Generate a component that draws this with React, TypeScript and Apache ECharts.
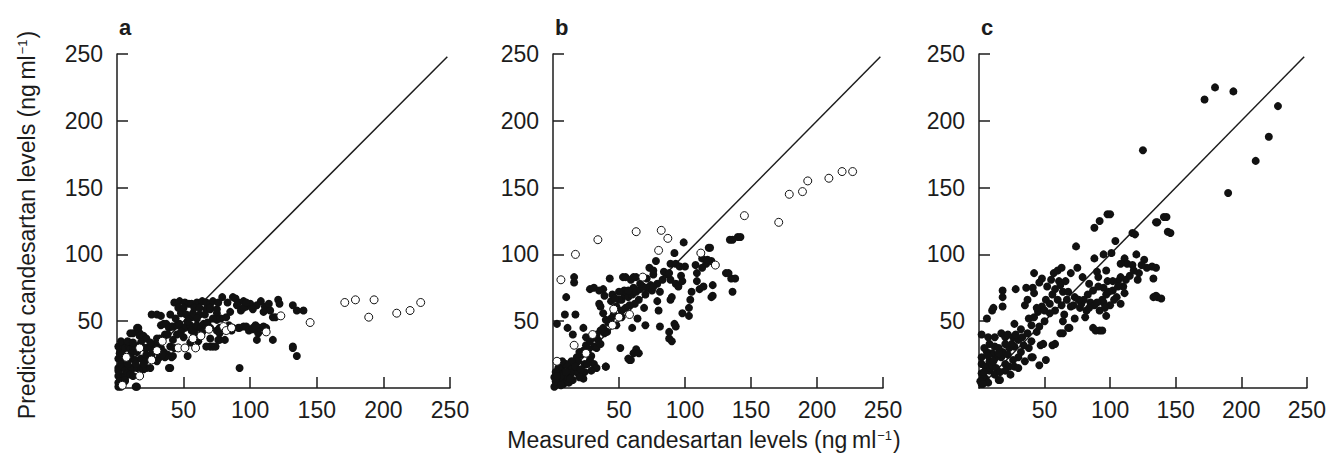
import React, { useEffect, useRef } from 'react';
import * as echarts from 'echarts';

const axisTicks = [0, 50, 100, 150, 200, 250];
const panelLabels = ['a', 'b', 'c'];
const identityLine = [[0, 0], [248, 248]];
const yTitle = 'Predicted candesartan levels (ng\u2009ml';
const xTitle = 'Measured candesartan levels (ng\u2009ml';
const unitExp = '\u22121';

const aFilled = [
  [43,64],[47,65],[51,64],[54,63],[56,63],[60,64],[64,65],[67,64],[70,63],[72,65],[76,64],[79,68],[87,68],[89,67],[91,64],[95,65],[97,61],[100,63],[105,62],[108,65],[111,61],[115,58],[121,66],[122,63],[132,62],[135,58],[140,58],[67,59],
  [26,55],[30,55],[33,54],[48,56],[52,55],[56,53],[57,56],[62,55],[70,59],[70,60],[75,56],[75,59],[78,52],[82,53],[85,57],[90,62],[93,58],[95,60],[102,59],[110,57],[117,53],[119,53],
  [33,47],[35,48],[37,48],[39,45],[41,46],[42,46],[45,47],[47,48],[49,45],[51,45],[52,46],[55,47],[56,43],[60,45],[60,47],[63,45],[65,48],[67,46],[68,49],[75,51],[75,43],[77,45],[77,41],[86,43],[87,45],[91,45],[92,45],[95,46],[97,46],[99,43],[102,44],[102,45],[106,41],[107,45],[110,46],[112,45],
  [70,37],[70,31],[72,31],[67,31],[74,31],[76,36],[81,36],[77,36],[61,35],[55,34],[53,24],[40,31],[37,24],[42,24],[40,15],[105,36],[117,36],[92,15],[132,31],[135,24],[132,30],
  [10,41],[12,41],[15,45],[16,45],[17,41],[17,39],[19,38],[20,39],[22,37],[30,37],[32,37],[36,40],[18,34],[30,34],
  [1,31],[2,30],[5,31],[6,30],[9,31],[10,29],[12,30],[14,30],[16,31],[21,30],[22,30],[25,30],[26,31],[29,30],[30,28],[33,30],[35,27],[38,25],[41,23],[43,30],
  [2,26],[11,26],[15,27],[1,22],[4,22],[4,25],[10,23],[10,22],[13,21],[14,21],[18,22],[22,21],[22,25],[27,21],[32,23],[36,23],
  [1,15],[1,13],[6,15],[6,14],[11,15],[11,14],[15,15],[18,15],[20,14],[22,15],[25,15],[39,15],
  [1,9],[2,10],[5,9],[6,8],[8,11],[10,10],[12,9],[1,4],[2,5],[6,5],[6,6],[3,1],[1,1],[14,1],[15,1],
  [3,18],[8,18],[14,18],[20,18],[26,25],[30,20],[34,25],[3,35],[8,35],[12,34],[25,34],[44,52],[40,55],[46,60],[50,60],[58,60],[62,60],[66,55],[72,52],
  [45,40],[50,38],[58,41],[64,42],[70,45],[38,40],[42,36],[48,42],[53,50],[60,52],[83,64],[85,45],[97,64],[104,47],[114,63],[84,47]
];
const aOpen = [
  [4,2],[17,9],[26,21],[17,30],[7,23],[34,35],[30,28],[46,30],[51,30],[57,37],[59,30],[63,39],[69,44],[80,46],[82,43],[86,45],[112,42],[123,54],[145,49],[171,64],[179,66],[193,66],[189,53],[210,56],[220,58],[228,64]
];

const bFilled = [
  [99,109],[92,101],[118,105],[134,111],[140,113],[119,105],[136,111],[142,113],
  [113,97],[116,93],[120,95],[89,93],[93,93],[96,91],[100,91],[73,90],[76,85],[71,82],[74,77],[71,75],[75,73],[79,78],[83,81],[86,85],[89,81],[93,78],[95,76],[98,80],[109,86],[109,80],[111,74],[114,76],[121,77],[131,86],[135,82],[136,72],[120,68],[105,72],[104,66],[103,60],[98,56],[103,54],[89,66],[90,68],[80,58],[92,48],[93,46],[88,42],[88,37],[90,35],[81,46],[69,60],[70,47],[64,52],[60,45],[63,29],[61,26],[58,21],[52,66],[54,70],[54,73],[59,81],[61,83],[61,75],[56,71],[50,66],[48,61],[44,65],[39,69],[38,74],[35,73],[35,63],[36,61],[43,82],[53,83],[28,74],[31,75],[16,83],[16,79],[10,68],[9,55],[17,55],[3,48],[11,45],[15,40],[23,45],[25,38],[25,32],[38,56],[40,51],[41,42],[39,41],[34,36],[31,31],[26,26],[21,25],[18,23],[19,20],[24,18],[28,21],[31,18],[33,15],[40,16],[29,13],[24,12],[23,7],[16,13],[12,16],[8,17],[6,13],[4,11],[1,8],[5,6],[9,5],[3,3],[1,1],[11,8],[14,11],[19,11],[59,21],[79,65],[81,72],[78,95],[76,88],[63,83],[55,83],[117,96],[133,86],[138,82],[121,69],
  [45,70],[47,67],[50,72],[57,68],[60,70],[63,72],[66,74],[68,76],[65,66],[62,63],[58,62],[55,60],[52,58],[46,55],[44,52],[42,49],[38,45],[36,43],[33,40],[30,38],[28,35],[27,29],[23,28],[20,27],[14,20],[10,18],[7,20],[4,15],[2,12],[8,3],[12,4],[6,9],[2,5],[15,6],[20,8],[51,30],[57,22],[65,26],[40,16],
  [3,9],[6,2],[10,12],[13,7],[17,16],[21,14],[26,18],[29,24],[33,30],[36,33],[48,47],[52,53],[57,73],[66,78],[70,70],[76,76],[84,87],[88,86],[97,84],[108,92],[113,90]
];
const bOpen = [
  [17,100],[34,111],[63,117],[82,118],[87,112],[80,103],[112,101],[123,92],[145,129],[6,81],[68,83],[46,59],[50,53],[58,55],[45,47],[30,40],[16,32],[25,26],[3,20],[171,124],[179,145],[189,147],[193,155],[209,157],[219,162],[227,162]
];

const cFilled = [
  [98,130],[92,125],[88,120],[74,106],[117,116],[135,124],[141,128],[144,117],[88,97],[95,100],[101,101],[111,97],[113,93],[117,92],[121,81],[112,81],[108,83],[106,80],[132,91],[133,82],[133,68],[136,68],[135,69],[90,87],[97,88],[91,83],[98,80],[95,75],[91,76],[97,70],[102,73],[105,68],[108,63],[111,71],[103,66],[87,73],[83,70],[82,58],[77,60],[81,53],[87,45],[92,43],[97,54],[92,58],[75,90],[70,86],[57,86],[55,81],[61,80],[48,82],[52,76],[56,70],[60,66],[63,62],[67,66],[70,61],[73,68],[65,55],[68,45],[62,41],[58,33],[56,32],[51,66],[48,61],[45,57],[42,53],[38,52],[35,62],[37,66],[41,75],[42,71],[36,75],[28,74],[27,48],[18,73],[18,68],[18,61],[11,60],[10,58],[6,52],[2,40],[7,38],[12,38],[17,41],[20,38],[22,40],[26,38],[30,36],[33,38],[37,41],[40,35],[32,27],[30,23],[26,21],[23,16],[20,18],[17,23],[13,23],[10,26],[6,27],[2,23],[2,18],[5,16],[8,13],[2,11],[5,7],[2,3],[15,6],[46,17],[51,21],[41,23],[47,32],[27,31],[23,30],[12,31],[8,20],[18,27],[10,17],[13,15],[20,13],[27,16],
  [172,216],[180,225],[194,222],[228,211],[221,188],[211,170],[190,146],[125,178],[100,130],[136,124],[143,128],[146,116],[119,115],[122,86],[139,67],[135,90],
  [78,63],[80,66],[85,64],[88,62],[95,64],[100,62],[84,78],[79,83],[66,80],[64,72],[58,58],[54,56],[50,50],[46,46],[44,42],[40,47],[32,44],[25,33],[22,25],[15,30],[8,33],[4,30],[3,8],[1,5],[7,4],[12,10],[16,12],[24,10],[30,15],[35,20],[38,30],[64,50],[73,52],[94,66],[99,72],[110,76],[115,84],[126,96],[128,90],[120,100],[104,110],[108,93],[60,88],[63,90],[46,79],[42,86],[89,43],[94,43],[69,45],[64,41],[16,6],[3,3],[49,33],[40,23],
  [4,12],[7,24],[11,20],[15,26],[20,33],[28,40],[34,32],[44,60],[50,58],[54,63],[58,74],[62,77],[68,72],[72,62],[76,66],[84,60],[90,64],[96,60],[102,80],[106,76],[118,88],[124,92]
];

const panels = [
  { filled: aFilled, open: aOpen },
  { filled: bFilled, open: bOpen },
  { filled: cFilled, open: [] as number[][] },
];

export default function App() {
  const ref = useRef<HTMLDivElement>(null);
  useEffect(() => {
    document.body.style.margin = '0';
    const chart = echarts.init(ref.current!, null, { renderer: 'svg' });
    const font = "'Liberation Sans', Arial, Helvetica, sans-serif";
    const ink = '#1c1c1c';
    const grids = [
      { left: 117, top: 54, width: 333, height: 334 },
      { left: 553, top: 54, width: 330, height: 334 },
      { left: 979, top: 54, width: 329, height: 334 },
    ];
    const axisBase = (i: number, margin: number) => ({
      type: 'value',
      gridIndex: i,
      min: axisTicks[0],
      max: axisTicks[axisTicks.length - 1],
      interval: axisTicks[1] - axisTicks[0],
      splitLine: { show: false },
      axisLine: { show: true, onZero: false, lineStyle: { color: ink, width: 1.5 } },
      axisTick: { show: true, inside: true, length: 11, lineStyle: { color: ink, width: 1.5 } },
      axisLabel: { showMinLabel: false, fontSize: 23, color: ink, fontFamily: font, margin },
    });
    const series: any[] = [];
    panels.forEach((p, i) => {
      series.push({
        type: 'line', xAxisIndex: i, yAxisIndex: i, data: identityLine, symbol: 'none',
        lineStyle: { color: ink, width: 1.5 }, silent: true, z: 1,
      });
      series.push({
        type: 'scatter', xAxisIndex: i, yAxisIndex: i, data: p.filled, symbol: 'circle', symbolSize: 8,
        itemStyle: { color: '#111', opacity: 1 }, z: 2,
      });
      if (p.open.length) {
        series.push({
          type: 'scatter', xAxisIndex: i, yAxisIndex: i, data: p.open, symbol: 'circle', symbolSize: 8,
          itemStyle: { color: '#fff', borderColor: '#111', borderWidth: 1, opacity: 1 }, z: 3,
        });
      }
    });
    const rich = {
      t: { fontSize: 23, fontFamily: font, fill: ink, color: ink },
      s: { fontSize: 13, fontFamily: font, fill: ink, color: ink, verticalAlign: 'top', padding: [0, 1, 0, 1] },
    };
    chart.setOption({
      animation: false,
      backgroundColor: '#fff',
      grid: grids,
      xAxis: grids.map((_, i) => axisBase(i, 10)),
      yAxis: grids.map((_, i) => axisBase(i, 14)),
      series,
      graphic: [
        ...panelLabels.map((l, i) => ({
          type: 'text', x: grids[i].left + 2, y: 27,
          style: { text: l, font: `bold 22px ${font}`, fill: ink, textAlign: 'left', textVerticalAlign: 'middle', align: 'left', verticalAlign: 'middle' },
        })),
        {
          type: 'text', x: 27, y: 225, rotation: Math.PI / 2,
          style: { text: `{t|${yTitle}}{s|${unitExp}}{t|)}`, rich, fill: ink, textAlign: 'center', textVerticalAlign: 'middle', align: 'center', verticalAlign: 'middle' },
        },
        {
          type: 'text', x: 704, y: 440,
          style: { text: `{t|${xTitle}}{s|${unitExp}}{t|)}`, rich, fill: ink, textAlign: 'center', textVerticalAlign: 'middle', align: 'center', verticalAlign: 'middle' },
        },
      ],
    });
    return () => chart.dispose();
  }, []);
  return <div ref={ref} style={{ width: 1329, height: 455 }} />;
}
